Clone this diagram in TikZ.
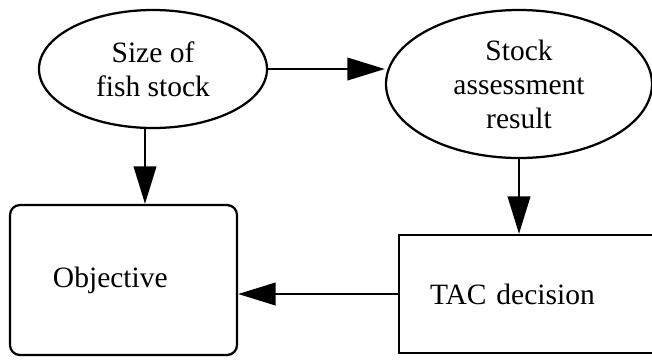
\documentclass[tikz,border=0pt]{standalone}
\usepackage{fontspec}
\setmainfont{Liberation Serif}
\usetikzlibrary{arrows.meta,shapes.geometric}

\begin{document}
\begin{tikzpicture}[
    x=0.4pt, y=-0.4pt,
    oval/.style={ellipse, draw, line width=0.9pt, align=center, inner sep=0pt, font=\fontsize{11.8}{13.6}\selectfont},
    block/.style={rectangle, draw, line width=0.9pt, align=left, font=\fontsize{11.8}{13.6}\selectfont},
    arrow/.style={-{Triangle[length=15pt, width=9pt]}, line width=0.9pt}
]
\clip (0,0) rectangle (652,361);

\node[oval, minimum width=91.2pt, minimum height=47.2pt] (size) at (153,69) {Size of\\ fish stock};
\node[oval, minimum width=106.4pt, minimum height=59.2pt] (stock) at (519,84) {Stock\\ assessment\\ result};
\node[block, rounded corners=4pt, minimum width=90.8pt, minimum height=60pt, text width=56.4pt, inner xsep=17.2pt] (obj) at (123.5,280) {Objective};
\node[block, minimum width=106.4pt, minimum height=47.2pt, text width=81.6pt, inner xsep=12.4pt] (tac) at (532,294) {TAC decision};

\coordinate (sizefoot) at ([xshift=-3.2pt]size.south);

\draw[arrow] (size.east) -- (size.east -| stock.west);
\draw[arrow] (sizefoot) -- (sizefoot |- obj.north);
\draw[arrow] (stock.south) -- (stock.south |- tac.north);
\draw[arrow] (tac.west) -- (tac.west -| obj.east);
\end{tikzpicture}
\end{document}
